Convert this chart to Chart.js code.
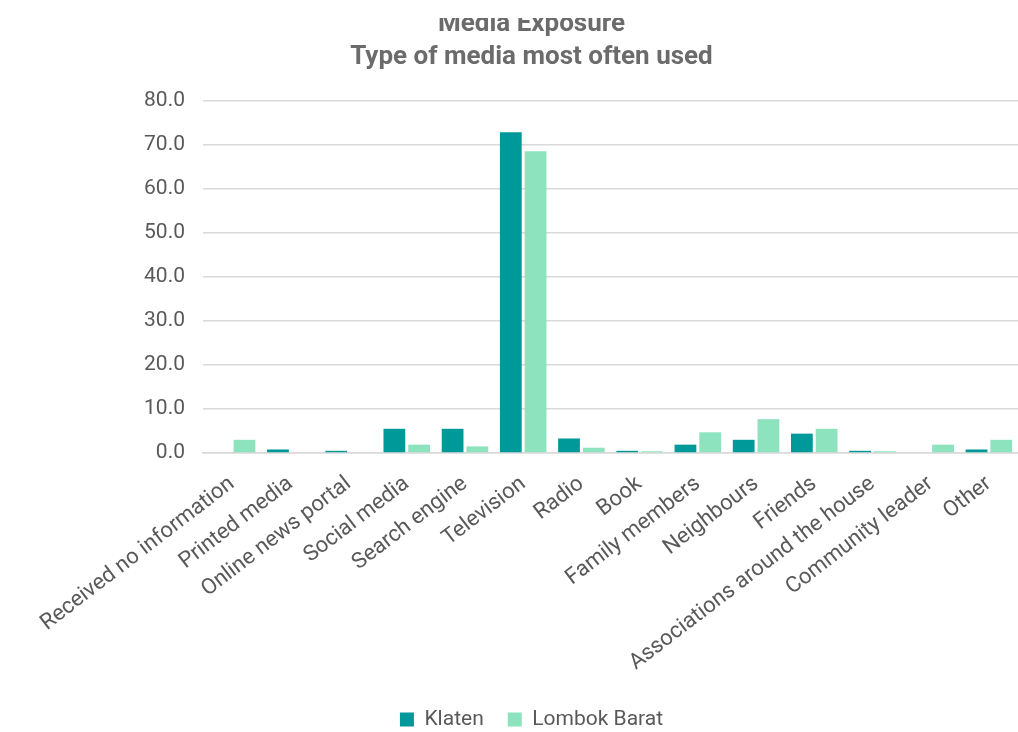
<!DOCTYPE html>
<html lang="en">
<head>
    <meta charset="UTF-8">
    <title>Media Exposure</title>
    <script src="https://cdn.jsdelivr.net/npm/chart.js"></script>
    <style>
        html, body {
            margin: 0;
            padding: 0;
            background: #ffffff;
            overflow: hidden;
        }
        .wrap {
            position: relative;
            width: 1018px;
            height: 732px;
            overflow: hidden;
        }
        /* the source picture is cropped just above the first title line */
        .crop {
            position: absolute;
            left: 0;
            top: 0;
            width: 1018px;
            height: 18px;
            background: #ffffff;
        }
    </style>
</head>
<body>
<div class="wrap">
    <canvas id="mediaChart"></canvas>
    <div class="crop"></div>
</div>

<script>
    // categories and values
    const categories = [
        "Received no information", "Printed media", "Online news portal", "Social media",
        "Search engine", "Television", "Radio", "Book", "Family members", "Neighbours",
        "Friends", "Associations around the house", "Community leader", "Other"
    ];
    const klaten = [0, 0.8, 0.5, 5.5, 5.5, 72.9, 3.3, 0.5, 1.9, 3.0, 4.4, 0.5, 0, 0.8];
    const lombokBarat = [3.0, 0, 0, 1.9, 1.5, 68.6, 1.2, 0.4, 4.7, 7.7, 5.5, 0.4, 1.9, 3.0];
    const titleLines = ["Media Exposure", "Type of media most often used"];

    const textGrey = "#595959";
    const fontFamily = "Roboto, 'Noto Sans', sans-serif";

    new Chart(document.getElementById("mediaChart"), {
        type: "bar",
        data: {
            labels: categories,
            datasets: [
                {
                    label: "Klaten",
                    data: klaten,
                    backgroundColor: "#009999"
                },
                {
                    label: "Lombok Barat",
                    data: lombokBarat,
                    backgroundColor: "#8ee3bf"
                }
            ]
        },
        options: {
            responsive: true,
            maintainAspectRatio: false,
            animation: false,
            categoryPercentage: 0.85,
            barPercentage: 0.88,
            layout: { padding: { left: 45, right: 0, top: 0, bottom: -8 } },
            plugins: {
                title: {
                    display: true,
                    text: titleLines,
                    color: "#6b6b6b",
                    font: { family: fontFamily, size: 26, weight: "bold", lineHeight: 1.27 },
                    padding: { top: 8, bottom: 27 }
                },
                legend: {
                    position: "bottom",
                    labels: {
                        color: textGrey,
                        font: { family: fontFamily, size: 21 },
                        boxWidth: 14,
                        boxHeight: 14,
                        padding: 24
                    }
                },
                tooltip: { enabled: false }
            },
            scales: {
                x: {
                    grid: { display: false },
                    border: { display: true, color: "#d9d9d9", width: 1.5 },
                    ticks: {
                        color: textGrey,
                        font: { family: fontFamily, size: 22 },
                        autoSkip: false,
                        maxRotation: 37.5,
                        minRotation: 37.5,
                        padding: 10
                    },
                    afterFit: scale => { scale.height = 232; }
                },
                y: {
                    min: 0,
                    max: 80,
                    grid: { color: "#d9d9d9", lineWidth: 1.5, drawTicks: false },
                    border: { display: false },
                    ticks: {
                        stepSize: 10,
                        color: textGrey,
                        font: { family: fontFamily, size: 21 },
                        padding: 18,
                        callback: v => v.toFixed(1)
                    },
                    afterFit: scale => { scale.width = 158; }
                }
            }
        }
    });
</script>
</body>
</html>
